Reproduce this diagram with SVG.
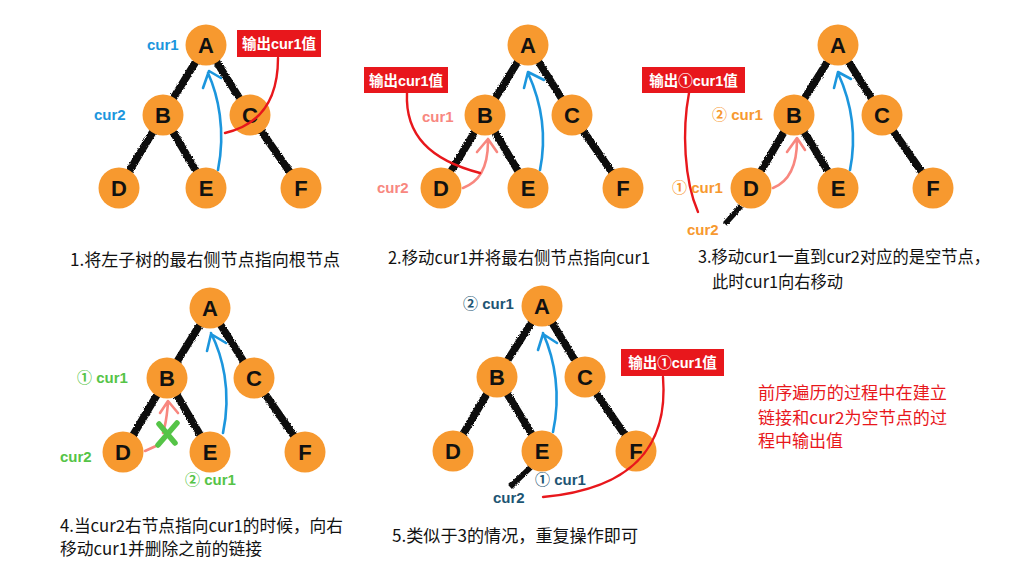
<svg xmlns="http://www.w3.org/2000/svg" width="1036" height="581" viewBox="0 0 1036 581">
<defs>
<filter id="rough" x="-10%" y="-10%" width="120%" height="120%">
<feTurbulence type="fractalNoise" baseFrequency="0.9" numOctaves="2" seed="3" result="n"/>
<feDisplacementMap in="SourceGraphic" in2="n" scale="3" xChannelSelector="R" yChannelSelector="G"/>
</filter>
</defs>
<style>
.edge{stroke:#111;stroke-width:7.5;stroke-linecap:butt;fill:none}
.stub{stroke:#111;stroke-width:5.5;fill:none}
.node circle{fill:#F7992F}
.node text{font-family:"Liberation Sans",Arial,sans-serif;font-size:22px;font-weight:bold;fill:#111;text-anchor:middle}
.blue{stroke:#1C96DD;stroke-width:2.6;fill:none;stroke-linecap:round;stroke-linejoin:round}
.salmon{stroke:#F8877F;stroke-width:2.6;fill:none;stroke-linecap:round;stroke-linejoin:round}
.red{stroke:#E8171C;stroke-width:2.4;fill:none;stroke-linecap:round}
.green{stroke:#55C447;stroke-width:5.5;fill:none;stroke-linecap:round}
.box{fill:#E8171C}
.boxt{font-family:"Liberation Sans","Noto Sans CJK SC",sans-serif;font-size:14.5px;font-weight:bold;fill:#fff;text-anchor:middle}
.lab{font-family:"Liberation Sans","Noto Sans CJK SC",sans-serif;font-size:15px;font-weight:bold}
.cap{font-family:"Noto Sans CJK SC","Liberation Sans",sans-serif;font-size:17px;fill:#111}
.note{font-family:"Noto Sans CJK SC","Liberation Sans",sans-serif;font-size:17px;fill:#E8171C}
</style>
<rect width="1036" height="581" fill="#fff"/>

<g id="connectors">
<g filter="url(#rough)">
<path class="edge" d="M206,45L163,115M206,45L250,115M163,115L119,188M163,115L206,188M250,115L301,188"/>
<path class="edge" d="M528,45L485,115M528,45L572,115M485,115L441,188M485,115L528,188M572,115L623,188"/>
<path class="edge" d="M838,45L794,115M838,45L882,115M794,115L751,188M794,115L838,188M882,115L933,188"/>
<path class="stub" d="M741,206L725,224"/>
<path class="edge" d="M210,308L167,378M210,308L254,378M167,378L123,452M167,378L210,452M254,378L305,452"/>
<path class="edge" d="M542,306L497,377M542,306L585,377M497,377L453,451M497,377L542,451M585,377L636,451"/>
<path class="stub" d="M531,467L510,487"/>
</g>
</g>

<g id="nodes">
<g id="p1-A" class="node"><circle cx="206" cy="45" r="20.5"/><text x="206" y="53">A</text></g>
<g id="p1-B" class="node"><circle cx="163" cy="115" r="20.5"/><text x="163" y="123">B</text></g>
<g id="p1-C" class="node"><circle cx="250" cy="115" r="20.5"/><text x="250" y="123">C</text></g>
<g id="p1-D" class="node"><circle cx="119" cy="188" r="20.5"/><text x="119" y="196">D</text></g>
<g id="p1-E" class="node"><circle cx="206" cy="188" r="20.5"/><text x="206" y="196">E</text></g>
<g id="p1-F" class="node"><circle cx="301" cy="188" r="20.5"/><text x="301" y="196">F</text></g>

<g id="p2-A" class="node"><circle cx="528" cy="45" r="20.5"/><text x="528" y="53">A</text></g>
<g id="p2-B" class="node"><circle cx="485" cy="115" r="20.5"/><text x="485" y="123">B</text></g>
<g id="p2-C" class="node"><circle cx="572" cy="115" r="20.5"/><text x="572" y="123">C</text></g>
<g id="p2-D" class="node"><circle cx="441" cy="188" r="20.5"/><text x="441" y="196">D</text></g>
<g id="p2-E" class="node"><circle cx="528" cy="188" r="20.5"/><text x="528" y="196">E</text></g>
<g id="p2-F" class="node"><circle cx="623" cy="188" r="20.5"/><text x="623" y="196">F</text></g>

<g id="p3-A" class="node"><circle cx="838" cy="45" r="20.5"/><text x="838" y="53">A</text></g>
<g id="p3-B" class="node"><circle cx="794" cy="115" r="20.5"/><text x="794" y="123">B</text></g>
<g id="p3-C" class="node"><circle cx="882" cy="115" r="20.5"/><text x="882" y="123">C</text></g>
<g id="p3-D" class="node"><circle cx="751" cy="188" r="20.5"/><text x="751" y="196">D</text></g>
<g id="p3-E" class="node"><circle cx="838" cy="188" r="20.5"/><text x="838" y="196">E</text></g>
<g id="p3-F" class="node"><circle cx="933" cy="188" r="20.5"/><text x="933" y="196">F</text></g>

<g id="p4-A" class="node"><circle cx="210" cy="308" r="20.5"/><text x="210" y="316">A</text></g>
<g id="p4-B" class="node"><circle cx="167" cy="378" r="20.5"/><text x="167" y="386">B</text></g>
<g id="p4-C" class="node"><circle cx="254" cy="378" r="20.5"/><text x="254" y="386">C</text></g>
<g id="p4-D" class="node"><circle cx="123" cy="452" r="20.5"/><text x="123" y="460">D</text></g>
<g id="p4-E" class="node"><circle cx="210" cy="452" r="20.5"/><text x="210" y="460">E</text></g>
<g id="p4-F" class="node"><circle cx="305" cy="452" r="20.5"/><text x="305" y="460">F</text></g>

<g id="p5-A" class="node"><circle cx="542" cy="306" r="20.5"/><text x="542" y="314">A</text></g>
<g id="p5-B" class="node"><circle cx="497" cy="377" r="20.5"/><text x="497" y="385">B</text></g>
<g id="p5-C" class="node"><circle cx="585" cy="377" r="20.5"/><text x="585" y="385">C</text></g>
<g id="p5-D" class="node"><circle cx="453" cy="451" r="20.5"/><text x="453" y="459">D</text></g>
<g id="p5-E" class="node"><circle cx="542" cy="451" r="20.5"/><text x="542" y="459">E</text></g>
<g id="p5-F" class="node"><circle cx="636" cy="451" r="20.5"/><text x="636" y="459">F</text></g>
</g>

<g id="arrows">
<path class="blue" d="M218,170C226,130 218,95 208,73M203,88L209,71L221,78"/>
<path class="blue" d="M540,170C548,130 538,95 528,73M524,88L528,72L544,80"/>
<path class="blue" d="M850,170C858,130 848,95 838,73M834,88L838,72L851,79"/>
<path class="blue" d="M223,433C232,390 222,355 211,333M207,351L211,334L226,343"/>
<path class="blue" d="M553,432C561,395 555,360 543,333M538,350L543,334L557,343"/>
<path class="salmon" d="M463,188C478,182 488,170 488,141M477,152L488,139L497,152"/>
<path class="salmon" d="M773,188C788,182 797,168 797,140M787,152L797,138L805,150"/>
<path class="salmon" d="M145,451L156,446M163,433C167,420 167,412 168,403M160,413L168,401L178,413"/>
<path class="green" d="M177,423L158,445M159,424L175,443"/>
<path class="red" d="M278,58C278,100 260,125 225,133"/>
<path class="red" d="M407,93C405,135 430,160 480,173"/>
<path class="red" d="M689,93C682,130 684,180 698,212"/>
<path class="red" d="M663,377C668,440 640,488 543,497"/>
</g>

<g id="boxes">
<rect class="box" x="237" y="30" width="84" height="27"/>
<text class="boxt" x="279" y="49">输出cur1值</text>
<rect class="box" x="364" y="67" width="84" height="26"/>
<text class="boxt" x="406" y="85.5">输出cur1值</text>
<rect class="box" x="642" y="67" width="103" height="26"/>
<text class="boxt" x="693.5" y="85.5">输出①cur1值</text>
<rect class="box" x="621" y="349" width="103" height="27"/>
<text class="boxt" x="672.5" y="368">输出①cur1值</text>
</g>

<g id="labels">
<text class="lab" x="147" y="50" fill="#1C96DD">cur1</text>
<text class="lab" x="94" y="120" fill="#1C96DD">cur2</text>
<text class="lab" x="422" y="122" fill="#F8877F">cur1</text>
<text class="lab" x="377" y="193" fill="#F8877F">cur2</text>
<text class="lab" x="712" y="120" fill="#F7992F">② cur1</text>
<text class="lab" x="672" y="193" fill="#F7992F">① cur1</text>
<text class="lab" x="687" y="235" fill="#F7992F">cur2</text>
<text class="lab" x="77" y="383" fill="#55C447">① cur1</text>
<text class="lab" x="60" y="462" fill="#55C447">cur2</text>
<text class="lab" x="185" y="485" fill="#55C447">② cur1</text>
<text class="lab" x="463" y="309" fill="#1D5573">② cur1</text>
<text class="lab" x="535" y="485" fill="#1D5573">① cur1</text>
<text class="lab" x="493" y="503" fill="#1D5573">cur2</text>
</g>

<g id="captions">
<text class="cap" x="70" y="266" textLength="270" lengthAdjust="spacingAndGlyphs">1.将左子树的最右侧节点指向根节点</text>
<text class="cap" x="388" y="264" textLength="262" lengthAdjust="spacingAndGlyphs">2.移动cur1并将最右侧节点指向cur1</text>
<text class="cap" x="698" y="263" textLength="292" lengthAdjust="spacingAndGlyphs">3.移动cur1一直到cur2对应的是空节点，</text>
<text class="cap" x="712" y="288" textLength="131" lengthAdjust="spacingAndGlyphs">此时cur1向右移动</text>
<text class="cap" x="60" y="532" textLength="283" lengthAdjust="spacingAndGlyphs">4.当cur2右节点指向cur1的时候，向右</text>
<text class="cap" x="60" y="555" textLength="202" lengthAdjust="spacingAndGlyphs">移动cur1并删除之前的链接</text>
<text class="cap" x="392" y="542" textLength="246" lengthAdjust="spacingAndGlyphs">5.类似于3的情况，重复操作即可</text>
<text class="note" x="758" y="399" textLength="189" lengthAdjust="spacingAndGlyphs">前序遍历的过程中在建立</text>
<text class="note" x="758" y="424" textLength="189" lengthAdjust="spacingAndGlyphs">链接和cur2为空节点的过</text>
<text class="note" x="758" y="447" textLength="85" lengthAdjust="spacingAndGlyphs">程中输出值</text>
</g>
</svg>
